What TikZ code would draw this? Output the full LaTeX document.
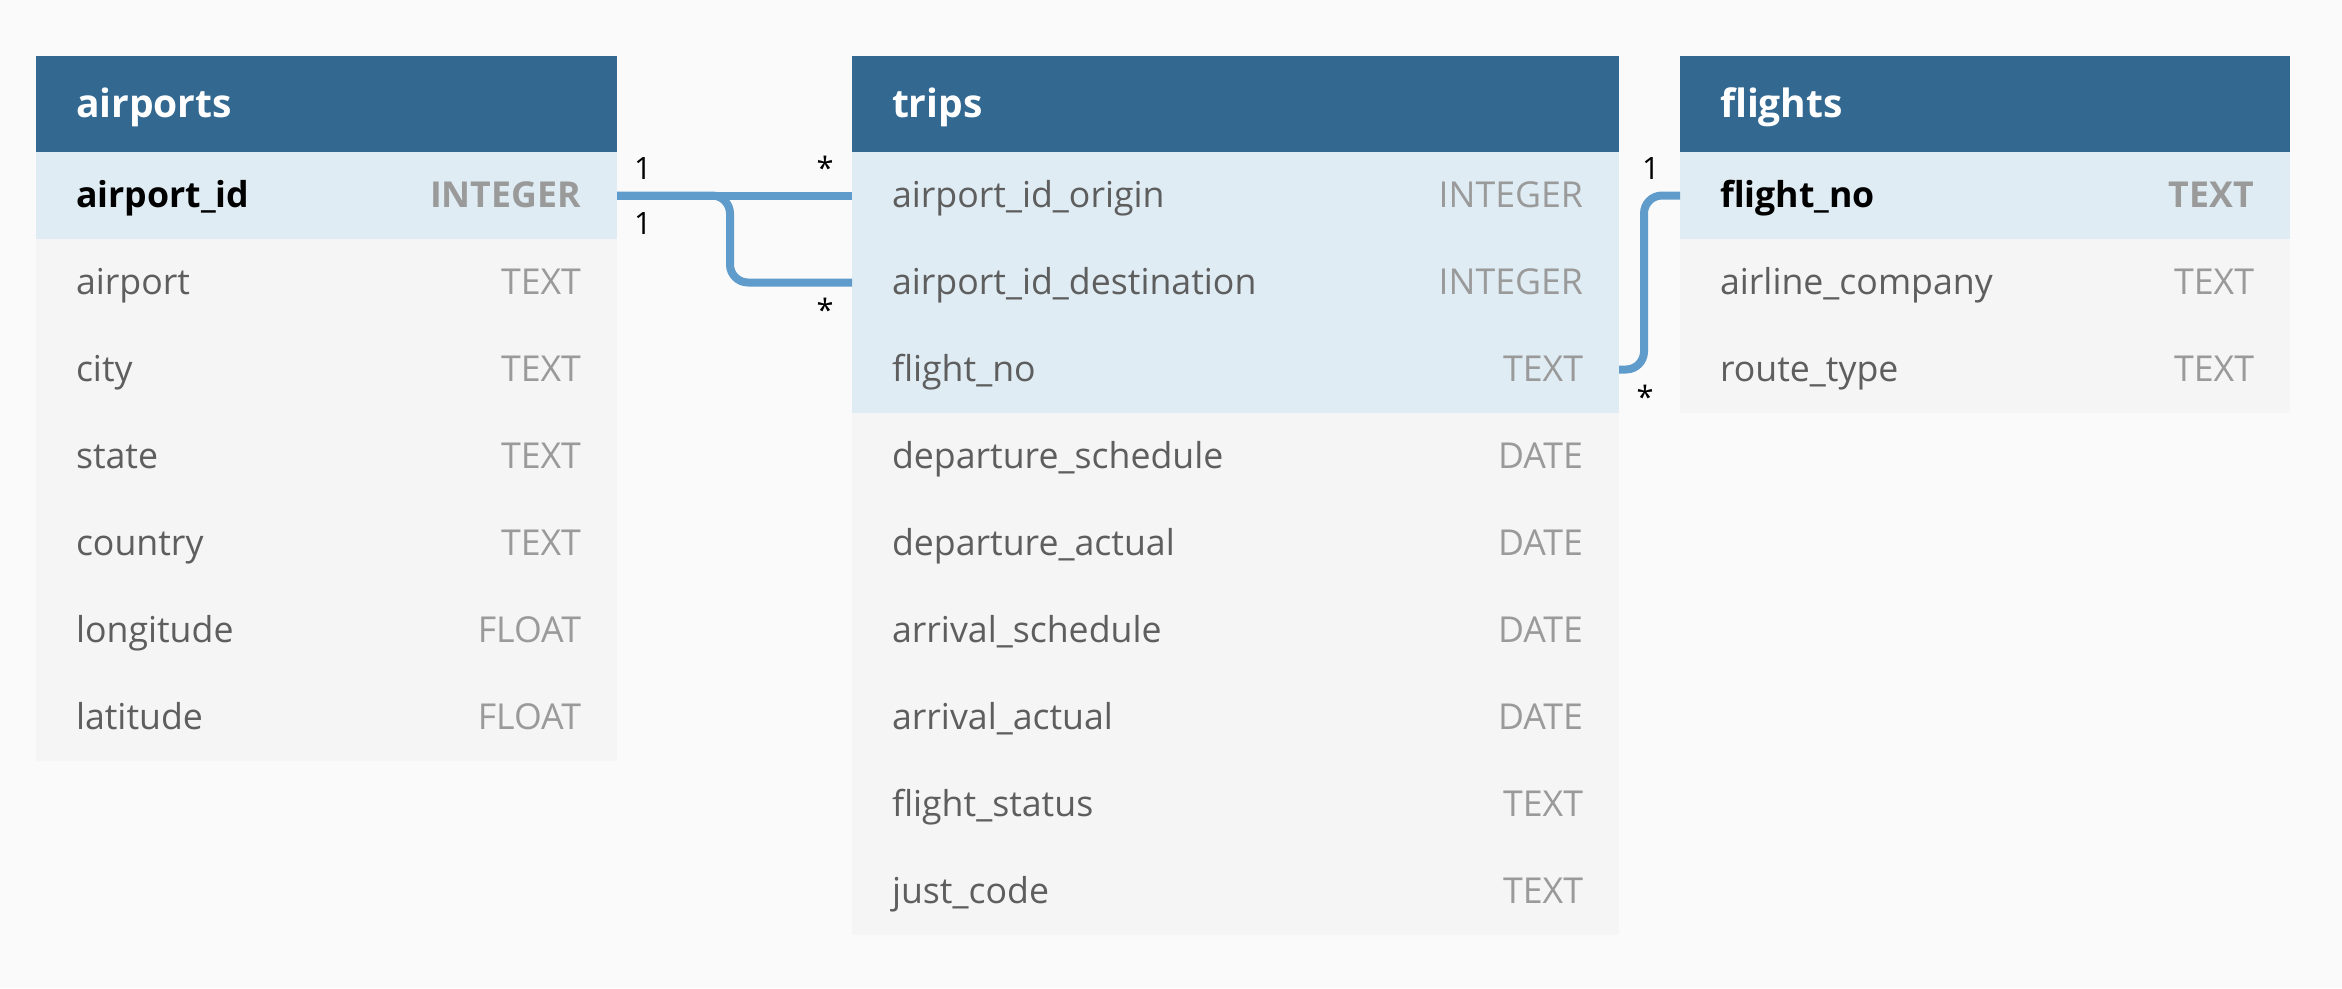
\documentclass[tikz,border=0pt]{standalone}
\usepackage{fontspec}
\setmainfont{Open Sans}
\definecolor{cHdr}{HTML}{336891}
\definecolor{cKey}{HTML}{DFECF3}
\definecolor{cPlain}{HTML}{F5F5F5}
\definecolor{cBg}{HTML}{FAFAFA}
\definecolor{cRel}{HTML}{609CCB}
\definecolor{cName}{HTML}{5E5E5E}
\definecolor{cType}{HTML}{9A9A9A}
\newcommand\ERrow[9]{%
  \node[rowbox,#5,minimum width=#4] (#1) at (#2,#3) {};
  \node[#6,anchor=base west] (#1-n) at ([xshift=40pt,yshift=-12pt]#1.west) {#8};
  \node[#7,anchor=base east] (#1-t) at ([xshift=-36pt,yshift=-12pt]#1.east) {#9};
}
\newcommand\ERhead[4]{%
  \node[hdrbox,minimum width=#4] (#1) at (#2,#3) {};
  \node[hdrtxt,anchor=base west] (#1-title) at ([xshift=40pt,yshift=-13pt]#1.west) {#1};
}
\begin{document}
\begin{tikzpicture}[x=1pt,y=-1pt,
  rowbox/.style={draw=none,inner sep=0pt,outer sep=0pt,anchor=north west,minimum height=87pt},
  hdrbox/.style={rowbox,fill=cHdr,minimum height=96pt},
  keyfill/.style={fill=cKey},
  plainfill/.style={fill=cPlain},
  txt/.style={inner sep=0pt,outer sep=0pt,font=\fontsize{35.7}{40}\selectfont},
  hdrtxt/.style={txt,text=white,font=\fontsize{39}{44}\selectfont\bfseries},
  keyname/.style={txt,text=black,font=\fontsize{35.7}{40}\selectfont\bfseries},
  keytype/.style={txt,text=cType,font=\fontsize{35.7}{40}\selectfont\bfseries},
  plname/.style={txt,text=cName},
  pltype/.style={txt,text=cType},
  fkname/.style={txt,text=cName},
  lbl/.style={inner sep=0pt,outer sep=0pt,font=\fontsize{30.8}{34}\selectfont,anchor=base},
  rel/.style={draw=cRel,line width=8pt,rounded corners=18pt}
]
\fill[cBg] (0,0) rectangle (2342,988);
\useasboundingbox (0,0) rectangle (2342,988);

% airports
\ERhead{airports}{36}{56}{581pt}
\ERrow{ap-id}{36}{152}{581pt}{keyfill}{keyname}{keytype}{airport\_id}{INTEGER}
\ERrow{ap-airport}{36}{239}{581pt}{plainfill}{plname}{pltype}{airport}{TEXT}
\ERrow{ap-city}{36}{326}{581pt}{plainfill}{plname}{pltype}{city}{TEXT}
\ERrow{ap-state}{36}{413}{581pt}{plainfill}{plname}{pltype}{state}{TEXT}
\ERrow{ap-country}{36}{500}{581pt}{plainfill}{plname}{pltype}{country}{TEXT}
\ERrow{ap-lon}{36}{587}{581pt}{plainfill}{plname}{pltype}{longitude}{FLOAT}
\ERrow{ap-lat}{36}{674}{581pt}{plainfill}{plname}{pltype}{latitude}{FLOAT}

% trips
\ERhead{trips}{852}{56}{767pt}
\ERrow{tr-orig}{852}{152}{767pt}{keyfill}{fkname}{pltype}{airport\_id\_origin}{INTEGER}
\ERrow{tr-dest}{852}{239}{767pt}{keyfill}{fkname}{pltype}{airport\_id\_destination}{INTEGER}
\ERrow{tr-fno}{852}{326}{767pt}{keyfill}{fkname}{pltype}{flight\_no}{TEXT}
\ERrow{tr-dsch}{852}{413}{767pt}{plainfill}{plname}{pltype}{departure\_schedule}{DATE}
\ERrow{tr-dact}{852}{500}{767pt}{plainfill}{plname}{pltype}{departure\_actual}{DATE}
\ERrow{tr-asch}{852}{587}{767pt}{plainfill}{plname}{pltype}{arrival\_schedule}{DATE}
\ERrow{tr-aact}{852}{674}{767pt}{plainfill}{plname}{pltype}{arrival\_actual}{DATE}
\ERrow{tr-stat}{852}{761}{767pt}{plainfill}{plname}{pltype}{flight\_status}{TEXT}
\ERrow{tr-just}{852}{848}{767pt}{plainfill}{plname}{pltype}{just\_code}{TEXT}

% flights
\ERhead{flights}{1680}{56}{610pt}
\ERrow{fl-fno}{1680}{152}{610pt}{keyfill}{keyname}{keytype}{flight\_no}{TEXT}
\ERrow{fl-air}{1680}{239}{610pt}{plainfill}{plname}{pltype}{airline\_company}{TEXT}
\ERrow{fl-route}{1680}{326}{610pt}{plainfill}{plname}{pltype}{route\_type}{TEXT}

% connectors
\coordinate (k1) at (730,0);
\coordinate (k2) at (1644,0);
\draw[rel] (ap-id.east) -- (tr-orig.west);
\draw[rel] (ap-id.east) -- (ap-id.east -| k1) -- (tr-dest.west -| k1) -- (tr-dest.west);
\draw[rel] (tr-fno.east) -- (tr-fno.east -| k2) -- (fl-fno.west -| k2) -- (fl-fno.west);

% cardinality labels
\node[lbl] (c1) at (643,179) {1};
\node[lbl] (c2) at (643,234) {1};
\node[lbl] (c3) at (825,179) {*};
\node[lbl] (c4) at (825,321) {*};
\node[lbl] (c5) at (1651,179) {1};
\node[lbl] (c6) at (1645,408) {*};
\end{tikzpicture}
\end{document}
